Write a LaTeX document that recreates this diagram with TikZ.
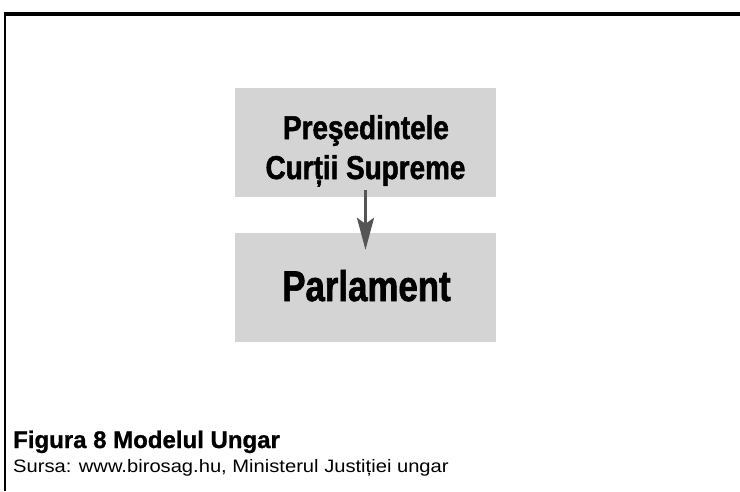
\documentclass[tikz,border=0pt]{standalone}
\usepackage{fontspec}
\setmainfont{Liberation Sans}
\newfontfamily\boxfont[FakeStretch=0.845, FakeBold=1.5]{Liberation Sans}
\newfontfamily\parlfont[FakeStretch=0.81, FakeBold=1.5]{Liberation Sans}
\newfontfamily\capfont[FakeStretch=1.0, FakeBold=1]{Liberation Sans}
\newfontfamily\srcfont[FakeStretch=1.12]{Liberation Sans}
\usetikzlibrary{arrows.meta}
\definecolor{boxgray}{HTML}{D4D4D4}
\definecolor{arrowgray}{HTML}{555555}
\tikzset{
  graybox/.style={fill=boxgray, draw=none, minimum width=261pt, minimum height=109pt, inner sep=0pt},
  label1/.style={anchor=base, inner sep=0pt, font=\boxfont\bfseries\fontsize{33}{39}\selectfont},
  label2/.style={anchor=base, inner sep=0pt, font=\parlfont\bfseries\fontsize{43}{49}\selectfont},
  conn/.style={draw=arrowgray, line width=3pt, -{Stealth[length=32pt, width=17pt, inset=6pt]}},
}
\begin{document}
\begin{tikzpicture}[x=1pt, y=-1pt]
\useasboundingbox (0,0) rectangle (740,491);
\fill[white] (0,0) rectangle (740,491);
% frame
\draw[line width=4pt, black] (4,14) -- (740,14);
\draw[line width=2pt, black] (5,12) -- (5,491);
% boxes
\node[graybox] (b1) at (365.5,142.5) {};
\node[graybox] (b2) at (365.5,287.5) {};
\node[label1] (t1) at (366,139) {Preşedintele};
\node[label1] (t2) at (365.5,179) {Curții Supreme};
\node[label2] (t3) at (366.5,301) {Parlament};
% arrow
\draw[conn] ([yshift=7pt]b1.south) -- ([yshift=-17pt]b2.north);
% caption
\node[anchor=base west, inner sep=0pt, font=\capfont\bfseries\fontsize{24}{28}\selectfont] (cap) at (13,448) {Figura 8 Modelul Ungar};
\node[anchor=base west, inner sep=0pt, font=\srcfont\fontsize{18}{21}\selectfont] (src) at (13,472) {Sursa: www.birosag.hu, Ministerul Justiției ungar};
\end{tikzpicture}
\end{document}
